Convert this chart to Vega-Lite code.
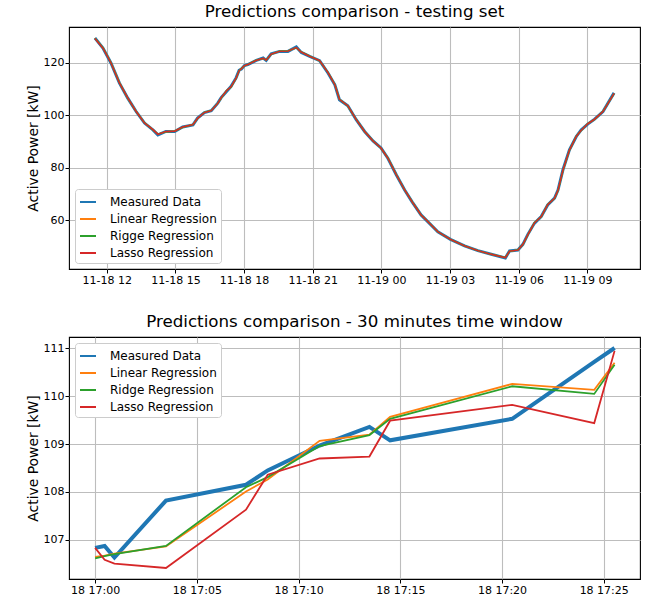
{
  "$schema": "https://vega.github.io/schema/vega-lite/v6.json",
  "background": "white",
  "padding": {"left": 25, "top": 3, "right": 9, "bottom": 0},
  "spacing": 27,
  "config": {
    "font": "DejaVu Sans",
    "view": {"stroke": "#000000", "strokeWidth": 1.1},
    "axis": {
      "labelFont": "DejaVu Sans", "labelFontSize": 11, "labelColor": "#000000",
      "tickColor": "#000000", "tickSize": 4, "tickWidth": 1, "labelPadding": 1,
      "domain": false, "gridColor": "#bdbdbd", "gridWidth": 1.1,
      "titleFont": "DejaVu Sans", "titleFontSize": 13.9, "titleFontWeight": "normal",
      "titleColor": "#000000", "titlePadding": 3
    },
    "title": {"font": "DejaVu Sans", "fontSize": 16.7, "fontWeight": "normal", "color": "#000000", "offset": 6},
    "legend": {
      "symbolType": "stroke", "symbolSize": 256, "symbolStrokeWidth": 2, "labelOffset": 13,
      "labelFont": "DejaVu Sans", "labelFontSize": 12, "labelColor": "#000000",
      "padding": 4, "fillColor": "#ffffff", "strokeColor": "#cccccc", "cornerRadius": 3, "offset": 6
    }
  },
  "vconcat": [
    {
      "width": 571, "height": 242,
      "title": "Predictions comparison - testing set",
      "data": {"values": [
        {"t": "2022-11-18T11:29:00Z", "m": 129.5, "l": 129.4, "r": 129.4, "s": 129.3},
        {"t": "2022-11-18T11:50:00Z", "m": 125.7, "l": 125.8, "r": 125.8, "s": 125.6},
        {"t": "2022-11-18T12:11:00Z", "m": 120.0, "l": 120.2, "r": 120.1, "s": 120.0},
        {"t": "2022-11-18T12:33:00Z", "m": 112.4, "l": 112.6, "r": 112.5, "s": 112.4},
        {"t": "2022-11-18T12:55:00Z", "m": 106.6, "l": 106.5, "r": 106.6, "s": 106.7},
        {"t": "2022-11-18T13:17:00Z", "m": 101.5, "l": 101.6, "r": 101.5, "s": 101.5},
        {"t": "2022-11-18T13:39:00Z", "m": 97.1, "l": 97.2, "r": 97.2, "s": 97.1},
        {"t": "2022-11-18T14:01:00Z", "m": 94.5, "l": 94.6, "r": 94.5, "s": 94.6},
        {"t": "2022-11-18T14:14:00Z", "m": 92.6, "l": 92.9, "r": 92.9, "s": 92.8},
        {"t": "2022-11-18T14:35:00Z", "m": 93.9, "l": 93.8, "r": 93.8, "s": 93.9},
        {"t": "2022-11-18T14:58:00Z", "m": 93.9, "l": 94.1, "r": 94.0, "s": 94.0},
        {"t": "2022-11-18T15:19:00Z", "m": 95.6, "l": 95.5, "r": 95.5, "s": 95.6},
        {"t": "2022-11-18T15:46:00Z", "m": 96.4, "l": 96.6, "r": 96.5, "s": 96.5},
        {"t": "2022-11-18T15:58:00Z", "m": 99.0, "l": 98.8, "r": 98.8, "s": 98.9},
        {"t": "2022-11-18T16:16:00Z", "m": 101.1, "l": 101.2, "r": 101.2, "s": 101.1},
        {"t": "2022-11-18T16:34:00Z", "m": 101.8, "l": 101.9, "r": 101.9, "s": 101.8},
        {"t": "2022-11-18T16:51:00Z", "m": 104.7, "l": 104.6, "r": 104.6, "s": 104.6},
        {"t": "2022-11-18T17:00:00Z", "m": 106.8, "l": 106.6, "r": 106.6, "s": 106.8},
        {"t": "2022-11-18T17:14:00Z", "m": 109.1, "l": 109.5, "r": 109.5, "s": 109.4},
        {"t": "2022-11-18T17:25:32Z", "m": 111.0, "l": 110.7, "r": 110.7, "s": 110.9},
        {"t": "2022-11-18T17:39:00Z", "m": 114.3, "l": 114.1, "r": 114.1, "s": 114.2},
        {"t": "2022-11-18T17:47:00Z", "m": 117.2, "l": 117.0, "r": 117.1, "s": 117.1},
        {"t": "2022-11-18T17:53:00Z", "m": 117.7, "l": 117.9, "r": 118.0, "s": 117.8},
        {"t": "2022-11-18T18:01:00Z", "m": 119.0, "l": 118.9, "r": 118.9, "s": 119.0},
        {"t": "2022-11-18T18:10:00Z", "m": 119.4, "l": 119.5, "r": 119.5, "s": 119.4},
        {"t": "2022-11-18T18:32:00Z", "m": 121.0, "l": 121.1, "r": 121.1, "s": 121.0},
        {"t": "2022-11-18T18:50:00Z", "m": 121.9, "l": 121.7, "r": 121.7, "s": 121.8},
        {"t": "2022-11-18T18:58:00Z", "m": 121.0, "l": 121.2, "r": 121.2, "s": 121.1},
        {"t": "2022-11-18T19:11:00Z", "m": 123.5, "l": 123.3, "r": 123.3, "s": 123.4},
        {"t": "2022-11-18T19:33:00Z", "m": 124.4, "l": 124.5, "r": 124.5, "s": 124.4},
        {"t": "2022-11-18T19:55:00Z", "m": 124.4, "l": 124.6, "r": 124.6, "s": 124.5},
        {"t": "2022-11-18T20:17:00Z", "m": 126.1, "l": 125.8, "r": 125.8, "s": 125.9},
        {"t": "2022-11-18T20:30:00Z", "m": 124.0, "l": 124.2, "r": 124.2, "s": 124.1},
        {"t": "2022-11-18T20:52:00Z", "m": 122.5, "l": 122.6, "r": 122.6, "s": 122.5},
        {"t": "2022-11-18T21:18:00Z", "m": 120.9, "l": 120.8, "r": 120.8, "s": 120.9},
        {"t": "2022-11-18T21:40:00Z", "m": 116.2, "l": 116.4, "r": 116.4, "s": 116.3},
        {"t": "2022-11-18T21:58:00Z", "m": 111.7, "l": 111.8, "r": 111.8, "s": 111.7},
        {"t": "2022-11-18T22:10:00Z", "m": 106.0, "l": 106.2, "r": 106.2, "s": 106.1},
        {"t": "2022-11-18T22:32:00Z", "m": 103.7, "l": 103.6, "r": 103.6, "s": 103.7},
        {"t": "2022-11-18T22:54:00Z", "m": 98.4, "l": 98.5, "r": 98.5, "s": 98.4},
        {"t": "2022-11-18T23:16:00Z", "m": 93.9, "l": 93.9, "r": 93.9, "s": 93.9},
        {"t": "2022-11-18T23:38:00Z", "m": 90.3, "l": 90.4, "r": 90.4, "s": 90.3},
        {"t": "2022-11-18T23:59:00Z", "m": 87.6, "l": 87.5, "r": 87.5, "s": 87.6},
        {"t": "2022-11-19T00:17:00Z", "m": 83.7, "l": 83.8, "r": 83.8, "s": 83.7},
        {"t": "2022-11-19T00:39:00Z", "m": 77.4, "l": 77.5, "r": 77.5, "s": 77.4},
        {"t": "2022-11-19T01:01:00Z", "m": 71.6, "l": 71.6, "r": 71.6, "s": 71.6},
        {"t": "2022-11-19T01:21:00Z", "m": 67.0, "l": 67.1, "r": 67.1, "s": 67.0},
        {"t": "2022-11-19T01:44:00Z", "m": 62.1, "l": 62.1, "r": 62.1, "s": 62.1},
        {"t": "2022-11-19T01:53:00Z", "m": 60.8, "l": 60.9, "r": 60.9, "s": 60.8},
        {"t": "2022-11-19T02:28:00Z", "m": 55.7, "l": 55.7, "r": 55.7, "s": 55.7},
        {"t": "2022-11-19T03:01:00Z", "m": 52.8, "l": 52.8, "r": 52.8, "s": 52.8},
        {"t": "2022-11-19T03:38:00Z", "m": 50.3, "l": 50.3, "r": 50.3, "s": 50.3},
        {"t": "2022-11-19T04:13:00Z", "m": 48.5, "l": 48.5, "r": 48.5, "s": 48.5},
        {"t": "2022-11-19T04:48:00Z", "m": 47.1, "l": 47.1, "r": 47.1, "s": 47.1},
        {"t": "2022-11-19T05:25:00Z", "m": 45.7, "l": 45.9, "r": 45.9, "s": 45.8},
        {"t": "2022-11-19T05:36:00Z", "m": 48.4, "l": 48.2, "r": 48.2, "s": 48.3},
        {"t": "2022-11-19T05:58:00Z", "m": 48.7, "l": 48.8, "r": 48.8, "s": 48.7},
        {"t": "2022-11-19T06:11:00Z", "m": 50.9, "l": 50.8, "r": 50.8, "s": 50.9},
        {"t": "2022-11-19T06:24:00Z", "m": 54.7, "l": 54.5, "r": 54.5, "s": 54.6},
        {"t": "2022-11-19T06:41:00Z", "m": 58.9, "l": 59.1, "r": 59.1, "s": 59.0},
        {"t": "2022-11-19T06:59:00Z", "m": 61.5, "l": 61.4, "r": 61.4, "s": 61.5},
        {"t": "2022-11-19T07:16:00Z", "m": 65.9, "l": 66.1, "r": 66.1, "s": 66.0},
        {"t": "2022-11-19T07:34:00Z", "m": 68.5, "l": 68.4, "r": 68.4, "s": 68.5},
        {"t": "2022-11-19T07:43:00Z", "m": 71.6, "l": 71.3, "r": 71.3, "s": 71.5},
        {"t": "2022-11-19T07:56:00Z", "m": 79.3, "l": 79.0, "r": 79.0, "s": 79.2},
        {"t": "2022-11-19T08:13:00Z", "m": 86.9, "l": 86.7, "r": 86.7, "s": 86.8},
        {"t": "2022-11-19T08:31:00Z", "m": 92.0, "l": 92.1, "r": 92.1, "s": 92.0},
        {"t": "2022-11-19T08:44:00Z", "m": 94.5, "l": 94.3, "r": 94.3, "s": 94.4},
        {"t": "2022-11-19T09:01:00Z", "m": 96.7, "l": 96.9, "r": 96.9, "s": 96.8},
        {"t": "2022-11-19T09:19:00Z", "m": 98.6, "l": 98.5, "r": 98.5, "s": 98.6},
        {"t": "2022-11-19T09:41:00Z", "m": 101.5, "l": 101.6, "r": 101.6, "s": 101.5},
        {"t": "2022-11-19T10:10:00Z", "m": 108.6, "l": 108.3, "r": 108.3, "s": 108.4}
      ]},
      "transform": [{"fold": ["m", "l", "r", "s"], "as": ["series", "power"]}],
      "encoding": {
        "x": {
          "field": "t", "type": "temporal",
          "scale": {"domain": [1668766860000, 1668856680000]},
          "axis": {"title": null, "format": "%m-%d %H", "values": [1668772800000, 1668783600000, 1668794400000, 1668805200000, 1668816000000, 1668826800000, 1668837600000, 1668848400000]}
        },
        "y": {
          "field": "power", "type": "quantitative",
          "scale": {"domain": [41.5, 133.7], "nice": false, "zero": false},
          "axis": {"title": "Active Power [kW]", "values": [60, 80, 100, 120]}
        },
        "color": {
          "field": "series", "type": "nominal",
          "scale": {"domain": ["m", "l", "r", "s"], "range": ["#1f77b4", "#ff7f0e", "#2ca02c", "#d62728"]},
          "legend": {"title": null, "orient": "bottom-left", "labelExpr": "datum.label == 'm' ? 'Measured Data' : datum.label == 'l' ? 'Linear Regression' : datum.label == 'r' ? 'Rigge Regression' : 'Lasso Regression'"}
        }
      },
      "layer": [
        {"transform": [{"filter": "datum.series == 'm'"}], "mark": {"type": "line", "strokeWidth": 3}},
        {"transform": [{"filter": "datum.series != 'm'"}], "mark": {"type": "line", "strokeWidth": 1.4}}
      ]
    },
    {
      "width": 571, "height": 242,
      "title": "Predictions comparison - 30 minutes time window",
      "data": {"values": [
        {"t": "2022-11-18T17:00:00Z", "m": 106.83, "l": 106.64, "r": 106.61, "s": 106.83},
        {"t": "2022-11-18T17:00:28Z", "m": 106.87, "l": 106.67, "r": 106.66, "s": 106.58},
        {"t": "2022-11-18T17:00:57Z", "m": 106.63, "l": 106.71, "r": 106.70, "s": 106.50},
        {"t": "2022-11-18T17:03:29Z", "m": 107.82, "l": 106.86, "r": 106.87, "s": 106.41},
        {"t": "2022-11-18T17:07:25Z", "m": 108.15, "l": 108.01, "r": 108.10, "s": 107.63},
        {"t": "2022-11-18T17:08:29Z", "m": 108.45, "l": 108.26, "r": 108.31, "s": 108.36},
        {"t": "2022-11-18T17:11:02Z", "m": 108.97, "l": 109.07, "r": 108.96, "s": 108.70},
        {"t": "2022-11-18T17:13:29Z", "m": 109.36, "l": 109.20, "r": 109.19, "s": 108.74},
        {"t": "2022-11-18T17:14:30Z", "m": 109.08, "l": 109.57, "r": 109.53, "s": 109.49},
        {"t": "2022-11-18T17:20:30Z", "m": 109.53, "l": 110.26, "r": 110.21, "s": 109.82},
        {"t": "2022-11-18T17:24:32Z", "m": 110.72, "l": 110.135, "r": 110.05, "s": 109.44},
        {"t": "2022-11-18T17:25:32Z", "m": 111.01, "l": 110.70, "r": 110.66, "s": 110.95}
      ]},
      "transform": [{"fold": ["m", "l", "r", "s"], "as": ["series", "power"]}],
      "encoding": {
        "x": {
          "field": "t", "type": "temporal",
          "scale": {"domain": [1668790723000, 1668792407000]},
          "axis": {"title": null, "format": "%d %H:%M", "values": [1668790800000, 1668791100000, 1668791400000, 1668791700000, 1668792000000, 1668792300000]}
        },
        "y": {
          "field": "power", "type": "quantitative",
          "scale": {"domain": [106.18, 111.24], "nice": false, "zero": false},
          "axis": {"title": "Active Power [kW]", "values": [107, 108, 109, 110, 111]}
        },
        "color": {
          "field": "series", "type": "nominal",
          "scale": {"domain": ["m", "l", "r", "s"], "range": ["#1f77b4", "#ff7f0e", "#2ca02c", "#d62728"]},
          "legend": {"title": null, "orient": "top-left", "labelExpr": "datum.label == 'm' ? 'Measured Data' : datum.label == 'l' ? 'Linear Regression' : datum.label == 'r' ? 'Ridge Regression' : 'Lasso Regression'"}
        }
      },
      "layer": [
        {"transform": [{"filter": "datum.series == 'm'"}], "mark": {"type": "line", "strokeWidth": 4}},
        {"transform": [{"filter": "datum.series != 'm'"}], "mark": {"type": "line", "strokeWidth": 1.8}}
      ]
    }
  ],
  "resolve": {"scale": {"color": "independent"}, "legend": {"color": "independent"}}
}
